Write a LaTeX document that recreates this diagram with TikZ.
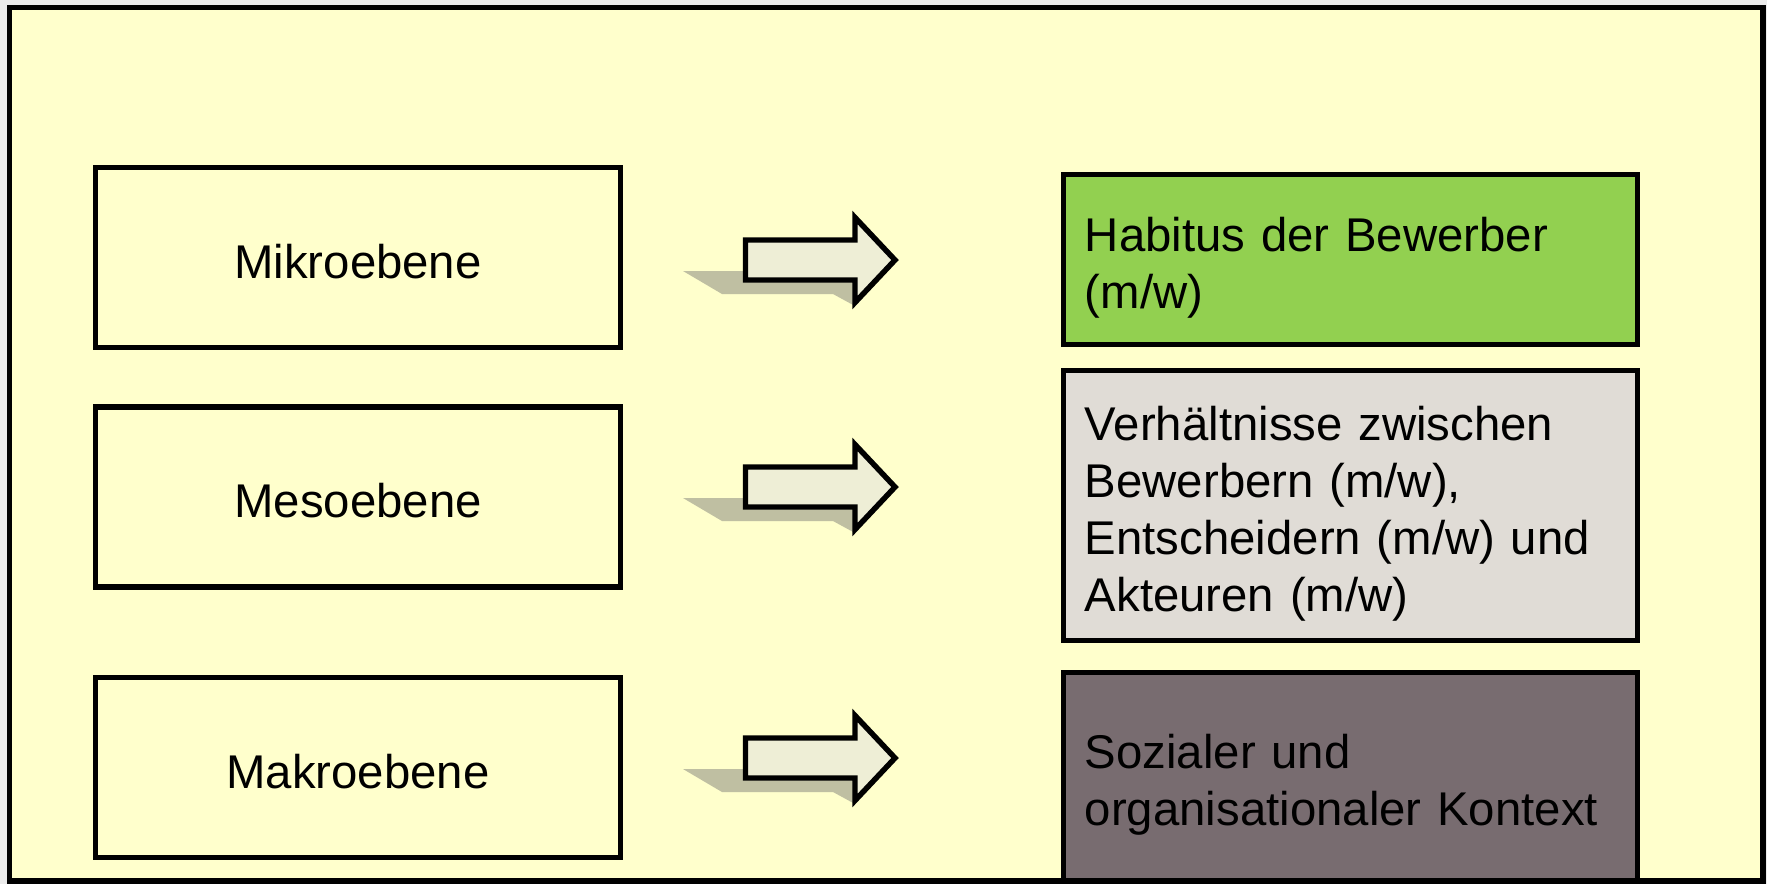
\documentclass[tikz,border=0pt]{standalone}
\usepackage{fontspec}
\setmainfont{Liberation Sans}
\definecolor{seite}{HTML}{EBEBEB}
\definecolor{rahmen}{HTML}{FFFFCC}
\definecolor{gruen}{HTML}{92D050}
\definecolor{hellgrau}{HTML}{E0DCD6}
\definecolor{dunkel}{HTML}{786C70}
\definecolor{pfeil}{HTML}{EEEED6}
\definecolor{schatten}{HTML}{BFBFA2}
\begin{document}
\begin{tikzpicture}[x=0.01cm,y=-0.01cm,font=\fontsize{13.46pt}{16.2pt}\selectfont,
  ebene/.style={draw,line width=1.55pt,fill=rahmen,minimum width=5.25cm,minimum height=1.8cm,inner sep=0pt,
    text height=0.41cm,text depth=0pt},
  inhalt/.style={draw,line width=1.55pt,minimum width=5.74cm,minimum height=#1,text width=5.31cm,
    inner xsep=0.215cm,inner ysep=0pt,align=left,text height=0.41cm}]
% Hintergrund und Rahmen
\fill[seite] (0,0) rectangle (1767,884);
\useasboundingbox (0,0) rectangle (1767,884);
\fill[rahmen] (9.5,7.5) rectangle (1763,881); \draw[line width=1.55pt] (9.5,7.5) rectangle (1763,881);
% Ebenen links
\node[ebene] (mikro) at (358,257.5) {Mikroebene};
\node[ebene] (meso) at (358,497) {Mesoebene};
\node[ebene] (makro) at (358,767.5) {Makroebene};
% Pfeile mit Schatten
\foreach \y in {260,487,758} {
  \fill[schatten] (683,\y+11) -- (855,\y+11) -- (855,\y+46) -- (833,\y+34) -- (722,\y+34) -- cycle;
  \filldraw[fill=pfeil,line width=1.55pt] (745.5,\y-20) -- (855,\y-20) -- (855,\y-42.5) -- (895,\y)
    -- (855,\y+42.5) -- (855,\y+20) -- (745.5,\y+20) -- cycle;
}
% Inhalte rechts
\node[inhalt=1.7cm,fill=gruen,text depth=0.57cm] (habitus) at (1350.5,259.5)
  {Habitus der Bewerber\\(m/w)};
\node[inhalt=2.7cm,fill=hellgrau,text depth=1.71cm] (verhaeltnisse) at (1350.5,505.5)
  {Verhältnisse zwischen\\Bewerbern (m/w),\\Entscheidern (m/w) und\\Akteuren (m/w)};
\node[inhalt=2.085cm,fill=dunkel,text depth=0.57cm] (kontext) at (1350.5,776.75)
  {Sozialer und\\organisationaler Kontext};
\end{tikzpicture}
\end{document}
